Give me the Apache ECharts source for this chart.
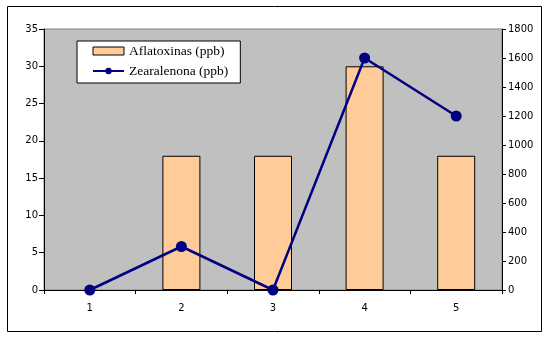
<!DOCTYPE html>
<html>
<head>
<meta charset="utf-8">
<script src="https://cdn.jsdelivr.net/npm/echarts@6/dist/echarts.min.js"></script>
<style>
html,body{margin:0;padding:0;background:#fff;}
#chart{width:550px;height:339px;}
</style>
</head>
<body>
<div id="chart"></div>
<script>
// Samples along the x axis
const categories = ['1', '2', '3', '4', '5'];
// Aflatoxins, ppb (left axis)
const aflatoxinas = [0, 18, 18, 30, 18];
// Zearalenone, ppb (right axis)
const zearalenona = [0, 300, 0, 1600, 1200];

const chart = echarts.init(document.getElementById('chart'), null, {renderer: 'canvas'});
const tickFont = {fontFamily: 'DejaVu Sans', fontSize: 10, color: '#000'};
const plain = v => String(v);

// a zero-height bar gets no outline so nothing shows on the baseline
const barItems = aflatoxinas.map(v => v === 0
  ? {value: v, itemStyle: {borderWidth: 0}}
  : {value: v});

chart.setOption({
  backgroundColor: '#fff',
  animation: false,
  graphic: [{
    type: 'rect',
    shape: {x: 7.5, y: 6.5, width: 534, height: 325},
    style: {fill: 'none', stroke: '#000', lineWidth: 1},
    z: -10
  }],
  grid: {
    left: 44, top: 29, right: 48, bottom: 49,
    show: true, backgroundColor: '#C0C0C0', borderColor: '#808080', borderWidth: 1
  },
  legend: {
    orient: 'vertical',
    left: 77, top: 41,
    width: 160,
    backgroundColor: '#fff',
    borderColor: '#000', borderWidth: 1,
    padding: [3, 12, 5, 15],
    itemGap: 6,
    itemWidth: 31, itemHeight: 8,
    textStyle: {fontFamily: 'Liberation Serif', fontSize: 13.5, color: '#000'},
    data: [
      {name: 'Aflatoxinas (ppb)', icon: 'rect', itemStyle: {borderColor: '#000', borderWidth: 1}},
      {name: 'Zearalenona (ppb)', itemStyle: {color: '#000080'}, lineStyle: {width: 2}}
    ]
  },
  xAxis: {
    type: 'category',
    data: categories,
    axisLine: {lineStyle: {color: '#000', width: 1}},
    axisTick: {show: true, length: 4, lineStyle: {color: '#000'}},
    axisLabel: Object.assign({margin: 13}, tickFont),
    splitLine: {show: false}
  },
  yAxis: [{
    type: 'value', min: 0, max: 35, interval: 5,
    axisLine: {show: true, lineStyle: {color: '#000', width: 1}},
    axisTick: {show: true, length: 5, lineStyle: {color: '#000'}},
    axisLabel: Object.assign({margin: 6, formatter: plain}, tickFont),
    splitLine: {show: false}
  }, {
    type: 'value', min: 0, max: 1800, interval: 200, position: 'right',
    axisLine: {show: true, lineStyle: {color: '#000', width: 1}},
    axisTick: {show: true, length: 4, lineStyle: {color: '#000'}},
    axisLabel: Object.assign({margin: 6, formatter: plain}, tickFont),
    splitLine: {show: false}
  }],
  series: [{
    name: 'Aflatoxinas (ppb)',
    type: 'bar',
    yAxisIndex: 0,
    data: barItems,
    barWidth: 38,
    itemStyle: {color: '#FFCC99', borderColor: '#000', borderWidth: 1}
  }, {
    name: 'Zearalenona (ppb)',
    type: 'line',
    yAxisIndex: 1,
    data: zearalenona,
    symbol: 'circle',
    symbolSize: 11,
    lineStyle: {color: '#000080', width: 2.5},
    itemStyle: {color: '#000080'},
    z: 5
  }]
});
</script>
</body>
</html>
